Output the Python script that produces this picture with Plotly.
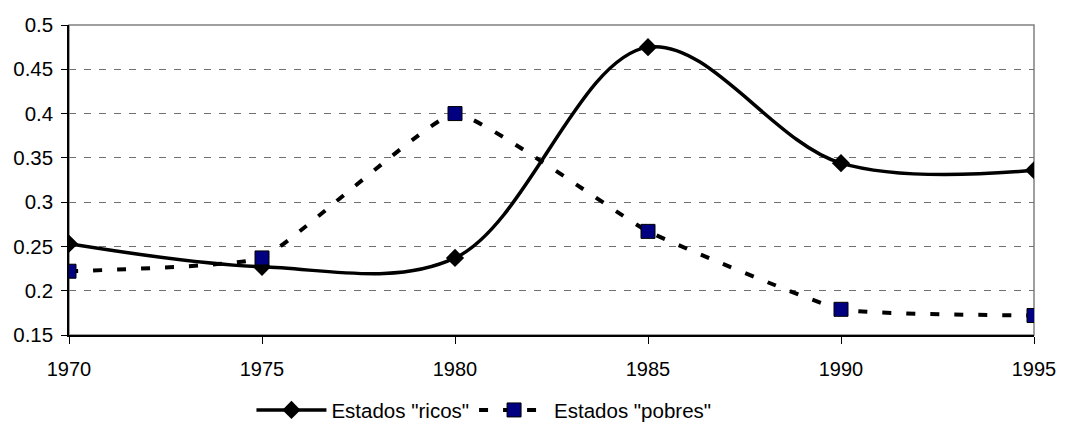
import plotly.graph_objects as go

years = [1970, 1975, 1980, 1985, 1990, 1995]
ricos = [0.253, 0.227, 0.237, 0.475, 0.344, 0.336]
pobres = [0.222, 0.237, 0.400, 0.267, 0.179, 0.172]
name_ricos = 'Estados "ricos"'
name_pobres = 'Estados "pobres"'
y_ticks = [0.15, 0.2, 0.25, 0.3, 0.35, 0.4, 0.45, 0.5]
y_labels = ["0.15", "0.2", "0.25", "0.3", "0.35", "0.4", "0.45", "0.5"]

font_family = "Liberation Sans, Arial, sans-serif"

fig = go.Figure()
fig.add_trace(go.Scatter(
    x=years, y=ricos, name=name_ricos, mode="lines+markers",
    line=dict(color="black", width=3.5, shape="spline", smoothing=1.0),
    marker=dict(symbol="diamond", size=14, color="black"),
))
fig.add_trace(go.Scatter(
    x=years, y=pobres, name=name_pobres, mode="lines+markers",
    line=dict(color="black", width=4, shape="spline", smoothing=0.35, dash="9px,15px"),
    marker=dict(symbol="square", size=14, color="#000080", line=dict(color="black", width=1)),
))

fig.update_layout(
    width=1058, height=414,
    margin=dict(l=61, r=32, t=17, b=87),
    paper_bgcolor="white", plot_bgcolor="white",
    font=dict(family=font_family, size=20.5, color="black"),
    showlegend=True,
    legend=dict(orientation="h", x=0.43, xanchor="center", xref="paper",
                y=0.077, yanchor="top", yref="container",
                font=dict(size=20.5), itemwidth=70, tracegroupgap=0),
    shapes=[dict(type="rect", xref="x domain", yref="y domain", x0=0, x1=1, y0=0, y1=1,
                 line=dict(color="#808080", width=1.5), layer="below")],
)
fig.update_xaxes(
    range=[1970, 1995], tickmode="array", tickvals=years, ticktext=[str(y) for y in years],
    showline=True, linecolor="black", linewidth=1.5, ticks="outside", ticklen=7,
    tickcolor="black", showgrid=False, zeroline=False, ticklabelstandoff=8,
    automargin=False, ticklabeloverflow="allow", tickfont=dict(size=20),
)
fig.update_yaxes(
    range=[0.15, 0.5], tickmode="array", tickvals=y_ticks, ticktext=y_labels,
    showline=True, linecolor="black", linewidth=1.5, ticks="outside", ticklen=6,
    tickcolor="black", showgrid=True, gridcolor="#707070", gridwidth=1,
    griddash="7px,8px", zeroline=False, ticklabelstandoff=4, automargin=False,
)

fig.write_html("out.html")
